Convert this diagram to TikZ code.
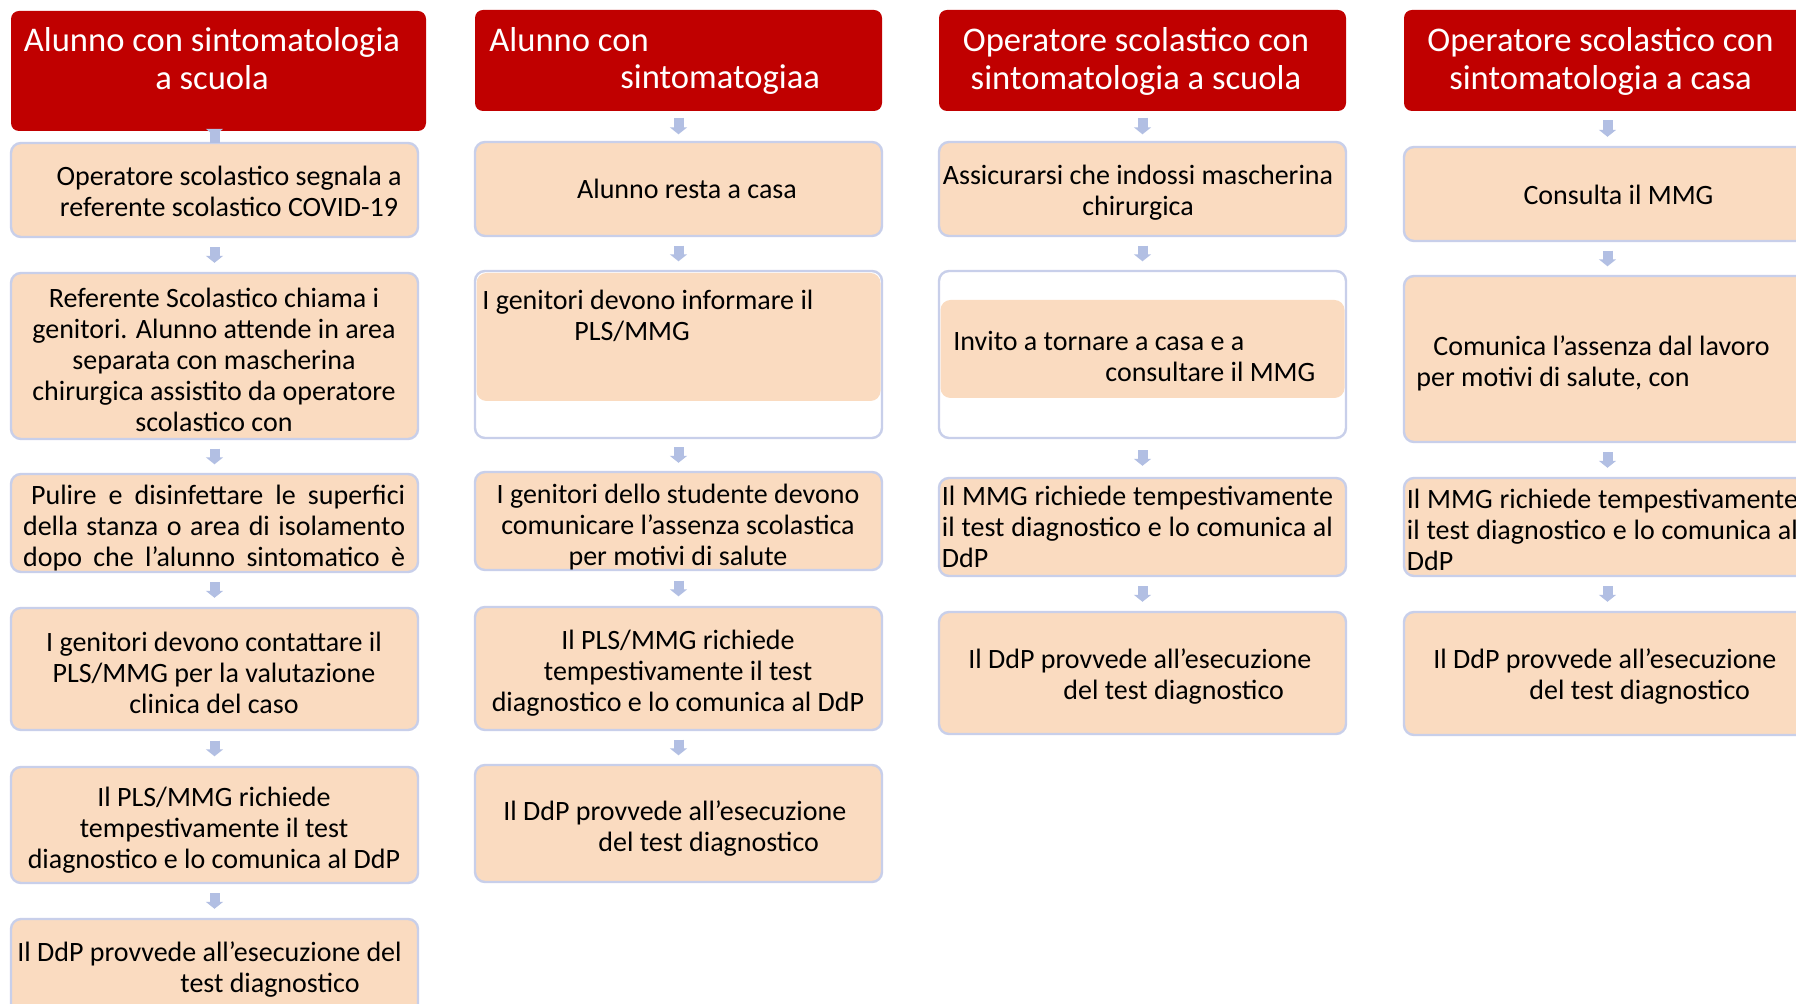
\documentclass[tikz,border=0pt]{standalone}
\usepackage{fontspec}
\setmainfont{Carlito}
\usepackage{xcolor}
\usetikzlibrary{arrows.meta}

\definecolor{hdred}{HTML}{C00000}
\definecolor{peach}{HTML}{FADBC0}
\definecolor{rim}{HTML}{C8CFEA}
\definecolor{arrowblue}{HTML}{B2BFE3}

\begin{document}
\begin{tikzpicture}[x=0.5pt,y=-0.5pt,
	head/.style={fill=hdred, rounded corners=4pt, inner sep=0, minimum width=203.5pt},
	pbox/.style={fill=peach, draw=rim, line width=1.2pt, rounded corners=5pt, inner sep=0, minimum width=203.5pt},
	wbox/.style={pbox, fill=white},
	inbox/.style={fill=peach, rounded corners=5pt, inner sep=0, minimum width=202pt},
	htext/.style={text=white, inner sep=0, font=\fontsize{17.3}{18.75}\selectfont},
	btext/.style={inner sep=0, font=\fontsize{14}{15.5}\selectfont},
	flow/.style={draw=arrowblue, line width=5pt, -{Triangle[width=8.5pt,length=3.5pt]},
		shorten <=#1, shorten >=#1}]

	\clip (0,0) rectangle (1796,1004);
	\fill[white] (0,0) rectangle (1796,1004);

	% first column
	\node[head, minimum width=207.5pt, minimum height=60pt] (h1) at (218.5,71) {};
	\node[pbox, minimum height=47pt] (b11) at (214.5,190) {};
	\node[pbox, minimum height=83pt] (b12) at (214.5,356) {};
	\node[pbox, minimum height=49pt] (b13) at (214.5,523) {};
	\node[pbox, minimum height=61pt] (b14) at (214.5,669) {};
	\node[pbox, minimum height=58pt] (b15) at (214.5,825) {};
	\node[pbox, minimum height=52.5pt] (b16) at (214.5,971.5) {};

	% second column
	\node[head, minimum height=50.5pt] (h2) at (678.5,60.5) {};
	\node[pbox, minimum height=47pt] (b21) at (678.5,189) {};
	\node[wbox, minimum height=83.5pt] (b22) at (678.5,354.5) {};
	\node[inbox, minimum height=64pt] (i22) at (678.5,337) {};
	\node[pbox, minimum height=49pt] (b23) at (678.5,521) {};
	\node[pbox, minimum height=61.5pt] (b24) at (678.5,668.5) {};
	\node[pbox, minimum height=58.5pt] (b25) at (678.5,823.5) {};

	% third column
	\node[head, minimum height=50.5pt] (h3) at (1142.5,60.5) {};
	\node[pbox, minimum height=47pt] (b31) at (1142.5,189) {};
	\node[wbox, minimum height=83.5pt] (b32) at (1142.5,354.5) {};
	\node[inbox, minimum height=49pt] (i32) at (1142.5,349) {};
	\node[pbox, minimum height=49pt] (b33) at (1142.5,527) {};
	\node[pbox, minimum height=61pt] (b34) at (1142.5,673) {};

	% fourth column
	\node[head, minimum height=50.5pt] (h4) at (1607.5,60.5) {};
	\node[pbox, minimum height=47pt] (b41) at (1607.5,194) {};
	\node[pbox, minimum height=83pt] (b42) at (1607.5,359) {};
	\node[pbox, minimum height=49pt] (b43) at (1607.5,527) {};
	\node[pbox, minimum height=61.5pt] (b44) at (1607.5,673.5) {};

	% arrows
	\draw[flow=3pt, shorten <=-6pt] (h1.south -| b11.north) -- (b11.north);
	\draw[flow=4.5pt] (b11) -- (b12);
	\draw[flow=4.25pt] (b12) -- (b13);
	\draw[flow=4.5pt] (b13) -- (b14);
	\draw[flow=4.75pt] (b14) -- (b15);
	\draw[flow=4.5pt] (b15) -- (b16);

	\draw[flow=3.25pt] (h2) -- (b21);
	\draw[flow=4.25pt] (b21) -- (b22);
	\draw[flow=4pt] (b22) -- (b23);
	\draw[flow=4.75pt] (b23) -- (b24);
	\draw[flow=4.25pt] (b24) -- (b25);

	\draw[flow=3.25pt] (h3) -- (b31);
	\draw[flow=4.25pt] (b31) -- (b32);
	\draw[flow=5.5pt] (b32) -- (b33);
	\draw[flow=4.5pt] (b33) -- (b34);

	\draw[flow=4.5pt] (h4) -- (b41);
	\draw[flow=4.25pt] (b41) -- (b42);
	\draw[flow=4.5pt] (b42) -- (b43);
	\draw[flow=4.5pt] (b43) -- (b44);

	% texts
	\node[htext, align=center] (t1) at (212,58.5) {Alunno con sintomatologia\\a scuola};
	\node[btext, align=center] (t11) at (229,191.5) {Operatore scolastico segnala a\\referente scolastico COVID-19};
	\node[btext, align=center] (t12) at (214,359.5) {Referente Scolastico chiama i\\genitori. Alunno attende in area\\separata con mascherina\\chirurgica assistito da operatore\\scolastico con};
	\node[btext, align=right, anchor=east] (t13) at (405.5,528) {\makebox[187pt][s]{Pulire e disinfettare le superfici}\\\makebox[191pt][s]{della stanza o area di isolamento}\\\makebox[191pt][s]{dopo che l’alunno sintomatico è}};
	\node[btext, align=center] (t14) at (214,672.5) {I genitori devono contattare il\\PLS/MMG per la valutazione\\clinica del caso};
	\node[btext, align=center] (t15) at (214,830.5) {Il PLS/MMG richiede\\tempestivamente il test\\diagnostico e lo comunica al DdP};
	\node[btext, align=left, anchor=west] (t16) at (17,970) {Il DdP provvede all’esecuzione del\\\hspace*{81.5pt}test diagnostico};

	\node[htext, align=left, anchor=west] (t2) at (489,61) {Alunno con\\\hspace*{65.5pt}sintomatogiaa};
	\node[btext] (t21) at (687,189) {Alunno resta a casa};
	\node[btext, align=left, anchor=west] (t22) at (482,315.5) {I genitori devono informare il\\\hspace*{46pt}PLS/MMG};
	\node[btext, align=center] (t23) at (678,527.5) {I genitori dello studente devono\\comunicare l’assenza scolastica\\per motivi di salute};
	\node[btext, align=center] (t24) at (678,673.5) {Il PLS/MMG richiede\\tempestivamente il test\\diagnostico e lo comunica al DdP};
	\node[btext, align=left, anchor=west] (t25) at (503,829) {Il DdP provvede all’esecuzione\\\hspace*{47.5pt}del test diagnostico};

	\node[htext, align=center] (t3) at (1136,61.5) {Operatore scolastico con\\sintomatologia a scuola};
	\node[btext, align=center] (t31) at (1138,193) {Assicurarsi che indossi mascherina\\chirurgica};
	\node[btext, align=left, anchor=west] (t32) at (953,356.5) {Invito a tornare a casa e a\\\hspace*{76pt}consultare il MMG};
	\node[btext, align=left, anchor=west] (t33) at (941.5,526.5) {\makebox[195.5pt][s]{Il MMG richiede tempestivamente}\\\makebox[195.5pt][s]{il test diagnostico e lo comunica al}\\DdP};
	\node[btext, align=left, anchor=west] (t34) at (968,676.5) {Il DdP provvede all’esecuzione\\\hspace*{47.5pt}del test diagnostico};

	\node[htext, align=center] (t4) at (1600.5,61.5) {Operatore scolastico con\\sintomatologia a casa};
	\node[btext] (t41) at (1618.5,195) {Consulta il MMG};
	\node[btext, align=left, anchor=west] (t42) at (1416,363.5) {\hspace*{8.5pt}Comunica l’assenza dal lavoro\\per motivi di salute, con};
	\node[btext, align=left, anchor=west] (t43) at (1406.5,530) {\makebox[195.5pt][s]{Il MMG richiede tempestivamente}\\\makebox[195.5pt][s]{il test diagnostico e lo comunica al}\\DdP};
	\node[btext, align=left, anchor=west] (t44) at (1433,676.5) {Il DdP provvede all’esecuzione\\\hspace*{48pt}del test diagnostico};

\end{tikzpicture}
\end{document}
